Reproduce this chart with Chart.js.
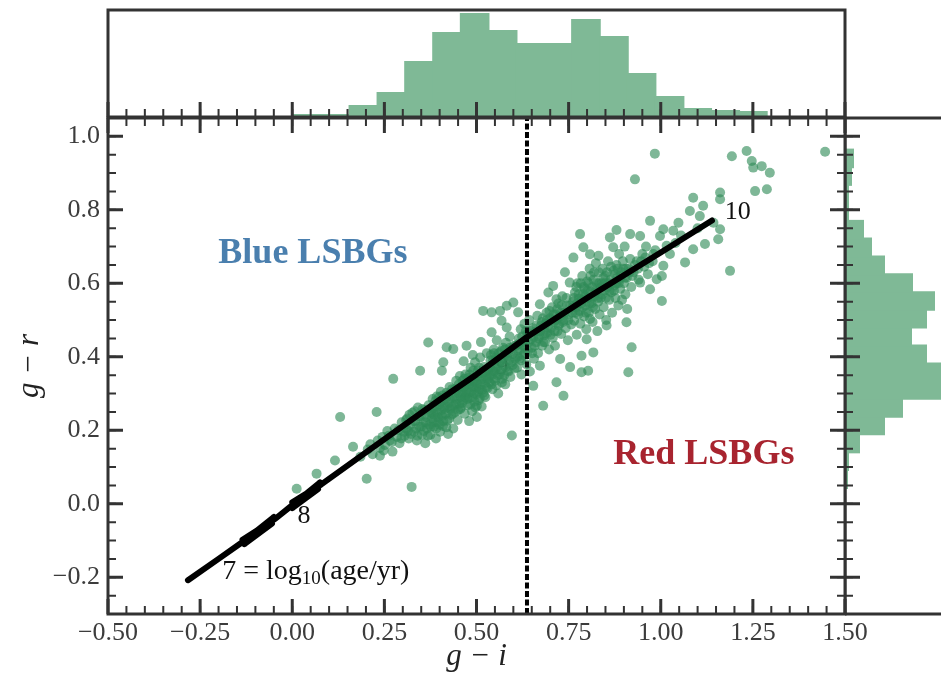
<!DOCTYPE html>
<html>
<head>
<meta charset="utf-8">
<script src="https://cdn.jsdelivr.net/npm/chart.js@4.4.1/dist/chart.umd.min.js"></script>
<style>
  html, body { margin: 0; padding: 0; width: 941px; height: 686px; overflow: hidden; background: #fff; }
  canvas { position: absolute; top: 0; }
</style>
</head>
<body>
<canvas id="topHist" width="941" height="130" style="left:0;width:941px;height:130px"></canvas>
<canvas id="rightHist" width="220" height="686" style="left:845px;width:220px;height:686px"></canvas>
<canvas id="main" width="941" height="686" style="left:0;width:941px;height:686px"></canvas>
<script>
const X_MIN = -0.5;
const X_MAX = 1.5;
const Y_MIN = -0.3;
const Y_MAX = 1.05;

const xTickValues = [-0.5, -0.25, 0, 0.25, 0.5, 0.75, 1.0, 1.25, 1.5];
const xTickLabels = ['−0.50', '−0.25', '0.00', '0.25', '0.50', '0.75', '1.00', '1.25', '1.50'];
const yTickValues = [-0.2, 0, 0.2, 0.4, 0.6, 0.8, 1.0];
const yTickLabels = ['−0.2', '0.0', '0.2', '0.4', '0.6', '0.8', '1.0'];

// g-i histogram (top panel): bin centres and counts
const giBinCentres = [0.042, 0.118, 0.193, 0.269, 0.344, 0.420, 0.495, 0.571, 0.646, 0.722, 0.797, 0.873, 0.948, 1.024, 1.099, 1.175, 1.250];
const giCounts = [2, 2, 11, 24, 55, 84, 103, 86, 73, 73, 97, 80, 43, 20, 8, 6, 5];

// g-r histogram (right panel): bin centres and counts
const grBinCentres = [0.067, 0.116, 0.164, 0.213, 0.261, 0.310, 0.358, 0.407, 0.455, 0.504, 0.552, 0.601, 0.649, 0.698, 0.746, 0.795, 0.843, 0.892, 0.940];
const grCounts = [2, 3, 14, 39, 57, 104, 112, 81, 66, 81, 89, 67, 39, 26, 18, 3, 3, 6, 8];

// model colour track, log10(age/yr) = 7 ... 10 (loops around 7.5 and 8)
const trackGi = [-0.283, -0.2, -0.135, -0.05, -0.13, -0.055, -0.135, -0.045, -0.005, 0.075, 0.0, 0.07, 0.0, 0.078, 0.2, 0.4, 0.5, 0.637, 0.8, 1.0, 1.139];
const trackGr = [-0.208, -0.150, -0.104, -0.036, -0.110, -0.054, -0.098, -0.040, -0.008, 0.058, -0.012, 0.040, 0.004, 0.052, 0.140, 0.283, 0.352, 0.454, 0.560, 0.684, 0.771];

const DIVIDER_GI = 0.637;

// LSBG colours [g-i, g-r]
const galaxyPoints = [
  [0.012, 0.041], [0.066, 0.082], [0.116, 0.118], [0.130, 0.236], [0.165, 0.155], [0.185, 0.128], [0.202, 0.068],
  [0.212, 0.162], [0.229, 0.25], [0.238, 0.131], [0.274, 0.340],
  [0.205, 0.148], [0.218, 0.135], [0.232, 0.172], [0.248, 0.145], [0.262, 0.185], [0.27, 0.168], [0.288, 0.2], [0.296, 0.178],
  [0.238, 0.152], [0.245, 0.182], [0.252, 0.160], [0.258, 0.198], [0.265, 0.172], [0.272, 0.142], [0.278, 0.205],
  [0.284, 0.182], [0.291, 0.165], [0.297, 0.222], [0.303, 0.196],
  [0.305, 0.185], [0.309, 0.228], [0.314, 0.198], [0.318, 0.242], [0.322, 0.19], [0.328, 0.225], [0.332, 0.252],
  [0.336, 0.205], [0.34, 0.185], [0.344, 0.238], [0.35, 0.21], [0.353, 0.258], [0.357, 0.198], [0.362, 0.222],
  [0.368, 0.185], [0.372, 0.242], [0.376, 0.21], [0.38, 0.258],
  [0.31, 0.205], [0.312, 0.232], [0.316, 0.178], [0.32, 0.215], [0.324, 0.046], [0.326, 0.248], [0.33, 0.196],
  [0.334, 0.225], [0.338, 0.172], [0.341, 0.262], [0.345, 0.21], [0.347, 0.362], [0.348, 0.238], [0.352, 0.188],
  [0.355, 0.222], [0.358, 0.255], [0.361, 0.165], [0.364, 0.236], [0.366, 0.205], [0.369, 0.439], [0.37, 0.268],
  [0.373, 0.215], [0.375, 0.188], [0.377, 0.248], [0.379, 0.232], [0.381, 0.285],
  [0.383, 0.245], [0.385, 0.222], [0.389, 0.28], [0.391, 0.205], [0.394, 0.265], [0.396, 0.235], [0.398, 0.29],
  [0.4, 0.215], [0.402, 0.278], [0.404, 0.242], [0.408, 0.295], [0.41, 0.225], [0.414, 0.258], [0.416, 0.285],
  [0.418, 0.208], [0.42, 0.262], [0.424, 0.298], [0.426, 0.232], [0.428, 0.285], [0.432, 0.265], [0.434, 0.312],
  [0.436, 0.245], [0.44, 0.29], [0.444, 0.272], [0.446, 0.31], [0.45, 0.255], [0.452, 0.325], [0.457, 0.29],
  [0.384, 0.21], [0.386, 0.262], [0.388, 0.236], [0.39, 0.178], [0.392, 0.292], [0.395, 0.248], [0.397, 0.222],
  [0.399, 0.27], [0.401, 0.196], [0.403, 0.305], [0.405, 0.255], [0.406, 0.362], [0.407, 0.238], [0.409, 0.212],
  [0.41, 0.385], [0.411, 0.282], [0.413, 0.265], [0.417, 0.245], [0.419, 0.426], [0.419, 0.302], [0.421, 0.226],
  [0.423, 0.19], [0.425, 0.275], [0.427, 0.318], [0.429, 0.258], [0.431, 0.242], [0.435, 0.29], [0.437, 0.421],
  [0.437, 0.205], [0.439, 0.268], [0.441, 0.312], [0.443, 0.25], [0.445, 0.335], [0.447, 0.285], [0.449, 0.228],
  [0.451, 0.3], [0.453, 0.272], [0.455, 0.348], [0.456, 0.258],
  [0.459, 0.318], [0.461, 0.275], [0.463, 0.305], [0.467, 0.34], [0.469, 0.29], [0.471, 0.322], [0.475, 0.285],
  [0.477, 0.33], [0.479, 0.302], [0.481, 0.352], [0.483, 0.27], [0.485, 0.338], [0.487, 0.318], [0.489, 0.29],
  [0.491, 0.362], [0.493, 0.3], [0.495, 0.33], [0.497, 0.262], [0.499, 0.318], [0.503, 0.345], [0.505, 0.305],
  [0.507, 0.37], [0.509, 0.288], [0.511, 0.325], [0.515, 0.31], [0.517, 0.34], [0.521, 0.295], [0.525, 0.36],
  [0.527, 0.318], [0.531, 0.34],
  [0.458, 0.262], [0.46, 0.30], [0.462, 0.335], [0.464, 0.282], [0.465, 0.388], [0.466, 0.318], [0.468, 0.245],
  [0.47, 0.352], [0.472, 0.296], [0.473, 0.43], [0.474, 0.31], [0.476, 0.268], [0.478, 0.342], [0.48, 0.325],
  [0.48, 0.225], [0.482, 0.288], [0.484, 0.37], [0.486, 0.305], [0.488, 0.252], [0.49, 0.335], [0.49, 0.405],
  [0.492, 0.318], [0.494, 0.278], [0.496, 0.385], [0.498, 0.346], [0.5, 0.298], [0.501, 0.267], [0.501, 0.236],
  [0.502, 0.326], [0.504, 0.362], [0.506, 0.282], [0.508, 0.312], [0.51, 0.398], [0.512, 0.338], [0.512, 0.44],
  [0.514, 0.265], [0.516, 0.355], [0.518, 0.302], [0.518, 0.525], [0.52, 0.372], [0.522, 0.328], [0.524, 0.29],
  [0.526, 0.345], [0.528, 0.41], [0.53, 0.315], [0.532, 0.362],
  [0.536, 0.35], [0.538, 0.39], [0.54, 0.325], [0.544, 0.362], [0.546, 0.34], [0.548, 0.41], [0.552, 0.37],
  [0.554, 0.322], [0.556, 0.395], [0.558, 0.35], [0.562, 0.382], [0.565, 0.36], [0.567, 0.415], [0.569, 0.33],
  [0.571, 0.395], [0.575, 0.35], [0.577, 0.42], [0.579, 0.372], [0.583, 0.4], [0.587, 0.36], [0.591, 0.425],
  [0.595, 0.385], [0.599, 0.408], [0.603, 0.368], [0.607, 0.43],
  [0.535, 0.33], [0.537, 0.372], [0.539, 0.405], [0.541, 0.35], [0.541, 0.521], [0.541, 0.467], [0.543, 0.312],
  [0.545, 0.39], [0.547, 0.42], [0.549, 0.36], [0.551, 0.335], [0.553, 0.398], [0.555, 0.445], [0.557, 0.372],
  [0.559, 0.3], [0.561, 0.41], [0.563, 0.352], [0.564, 0.525], [0.566, 0.388], [0.568, 0.498], [0.57, 0.34],
  [0.572, 0.425], [0.574, 0.375], [0.576, 0.402], [0.578, 0.325], [0.58, 0.438], [0.582, 0.539], [0.582, 0.48],
  [0.584, 0.362], [0.586, 0.41], [0.588, 0.39], [0.59, 0.455], [0.592, 0.345], [0.594, 0.42], [0.596, 0.186],
  [0.598, 0.378], [0.6, 0.548], [0.602, 0.43], [0.605, 0.395],
  [0.611, 0.4], [0.614, 0.435], [0.618, 0.42], [0.621, 0.39], [0.624, 0.455], [0.628, 0.43], [0.631, 0.41],
  [0.634, 0.47], [0.642, 0.44], [0.646, 0.47], [0.651, 0.41], [0.655, 0.455], [0.658, 0.43], [0.663, 0.485],
  [0.668, 0.45], [0.673, 0.47], [0.677, 0.495], [0.682, 0.44],
  [0.61, 0.37], [0.612, 0.418], [0.613, 0.521], [0.615, 0.45], [0.617, 0.395], [0.62, 0.475], [0.622, 0.352],
  [0.625, 0.432], [0.627, 0.405], [0.63, 0.49], [0.632, 0.44], [0.635, 0.38], [0.638, 0.462], [0.64, 0.415],
  [0.643, 0.5], [0.645, 0.36], [0.648, 0.448], [0.65, 0.425], [0.653, 0.478], [0.654, 0.321], [0.656, 0.395],
  [0.66, 0.468], [0.662, 0.44], [0.665, 0.512], [0.667, 0.41], [0.67, 0.455], [0.672, 0.376], [0.672, 0.543],
  [0.675, 0.485], [0.678, 0.43], [0.68, 0.505], [0.681, 0.267], [0.683, 0.458],
  [0.687, 0.465], [0.691, 0.5], [0.694, 0.48], [0.698, 0.525], [0.701, 0.46], [0.704, 0.5], [0.709, 0.515],
  [0.712, 0.47], [0.716, 0.5], [0.719, 0.53], [0.723, 0.485], [0.726, 0.51], [0.731, 0.54], [0.735, 0.495],
  [0.739, 0.52], [0.744, 0.56], [0.749, 0.5], [0.755, 0.54],
  [0.686, 0.44], [0.688, 0.49], [0.69, 0.52], [0.692, 0.465], [0.695, 0.575], [0.697, 0.42], [0.7, 0.505],
  [0.702, 0.478], [0.705, 0.535], [0.707, 0.452], [0.708, 0.593], [0.71, 0.495], [0.713, 0.43], [0.715, 0.515],
  [0.717, 0.557], [0.717, 0.331], [0.72, 0.47], [0.722, 0.545], [0.725, 0.49], [0.727, 0.394], [0.728, 0.52],
  [0.73, 0.462], [0.733, 0.565], [0.736, 0.294], [0.737, 0.5], [0.74, 0.63], [0.742, 0.478], [0.745, 0.54],
  [0.748, 0.445], [0.75, 0.515], [0.753, 0.602], [0.754, 0.372], [0.757, 0.488],
  [0.761, 0.535], [0.764, 0.56], [0.768, 0.52], [0.771, 0.59], [0.773, 0.545], [0.777, 0.57], [0.78, 0.525],
  [0.783, 0.6], [0.786, 0.555], [0.788, 0.535], [0.791, 0.59], [0.795, 0.565], [0.797, 0.52], [0.801, 0.58],
  [0.804, 0.6], [0.806, 0.545], [0.809, 0.62], [0.811, 0.56], [0.814, 0.59], [0.816, 0.535], [0.819, 0.63],
  [0.823, 0.575], [0.827, 0.6], [0.829, 0.56], [0.832, 0.63],
  [0.76, 0.52], [0.762, 0.55], [0.763, 0.67], [0.765, 0.498], [0.767, 0.575], [0.77, 0.535], [0.772, 0.46],
  [0.774, 0.6], [0.776, 0.515], [0.778, 0.558], [0.781, 0.734], [0.782, 0.49], [0.784, 0.545], [0.785, 0.358],
  [0.785, 0.403], [0.787, 0.62], [0.789, 0.57], [0.79, 0.698], [0.792, 0.51], [0.794, 0.585], [0.796, 0.54],
  [0.798, 0.475], [0.799, 0.448], [0.8, 0.605], [0.802, 0.56], [0.803, 0.362], [0.805, 0.52], [0.807, 0.64],
  [0.808, 0.679], [0.808, 0.503], [0.81, 0.578], [0.812, 0.545], [0.815, 0.495], [0.817, 0.412], [0.818, 0.61],
  [0.82, 0.565], [0.822, 0.53], [0.824, 0.655], [0.826, 0.585], [0.828, 0.47], [0.83, 0.55], [0.831, 0.675],
  [0.833, 0.6], [0.834, 0.515],
  [0.838, 0.59], [0.841, 0.57], [0.844, 0.615], [0.848, 0.6], [0.851, 0.56], [0.854, 0.63], [0.858, 0.6],
  [0.861, 0.58], [0.865, 0.645], [0.869, 0.6], [0.873, 0.58], [0.876, 0.625], [0.879, 0.6], [0.883, 0.64],
  [0.886, 0.6], [0.891, 0.62], [0.898, 0.64], [0.903, 0.615],
  [0.837, 0.56], [0.84, 0.6], [0.842, 0.64], [0.845, 0.535], [0.847, 0.58], [0.85, 0.62], [0.852, 0.5],
  [0.853, 0.485], [0.855, 0.59], [0.857, 0.66], [0.86, 0.555], [0.862, 0.725], [0.864, 0.61], [0.866, 0.575],
  [0.868, 0.52], [0.871, 0.698], [0.872, 0.635], [0.875, 0.595], [0.877, 0.56], [0.88, 0.65], [0.88, 0.745],
  [0.882, 0.615], [0.885, 0.54], [0.887, 0.68], [0.889, 0.611], [0.89, 0.585], [0.893, 0.63], [0.895, 0.555],
  [0.897, 0.66], [0.9, 0.6], [0.902, 0.7], [0.904, 0.57], [0.906, 0.64], [0.907, 0.494], [0.908, 0.615], [0.909, 0.53],
  [0.913, 0.64], [0.923, 0.62], [0.93, 0.65], [0.938, 0.64], [0.947, 0.66], [0.958, 0.67], [0.968, 0.655], [0.98, 0.68],
  [0.912, 0.358], [0.915, 0.63], [0.917, 0.734], [0.917, 0.666], [0.92, 0.59], [0.921, 0.426], [0.926, 0.63],
  [0.93, 0.883], [0.935, 0.66], [0.94, 0.61], [0.944, 0.729], [0.944, 0.602], [0.95, 0.68], [0.955, 0.645],
  [0.96, 0.7], [0.965, 0.625], [0.971, 0.77], [0.971, 0.584], [0.978, 0.66], [0.984, 0.953], [0.985, 0.69], [0.989, 0.611],
  [0.998, 0.729], [1.003, 0.62], [1.003, 0.552], [1.007, 0.747], [1.007, 0.648], [1.016, 0.702], [1.025, 0.68],
  [1.034, 0.743], [1.04, 0.71], [1.048, 0.765], [1.055, 0.73],
  [1.066, 0.657], [1.079, 0.797], [1.088, 0.693], [1.088, 0.833], [1.1, 0.75], [1.106, 0.783], [1.115, 0.811], [1.12, 0.707],
  [1.143, 0.765], [1.156, 0.72], [1.161, 0.747], [1.161, 0.829], [1.161, 0.847], [1.188, 0.634], [1.193, 0.946],
  [1.233, 0.96], [1.247, 0.933], [1.251, 0.915], [1.256, 0.851], [1.274, 0.919], [1.288, 0.856], [1.296, 0.901],
  [1.446, 0.958],
];

const AXIS_COLOUR = '#333333';
const TICK_LABEL_COLOUR = '#3c3c3c';
const POINT_COLOUR = 'rgba(46, 139, 87, 0.62)';
const HIST_COLOUR = '#7fb996';
const SERIF = '"Liberation Serif", "DejaVu Serif", serif';

const minorSteps = (min, max, step) => {
  const out = [];
  for (let v = Math.ceil(min / step - 1e-9) * step; v <= max + 1e-9; v += step) out.push(Number(v.toFixed(4)));
  return out;
};
const xMinor = minorSteps(X_MIN, X_MAX, 0.05);
const yMinor = minorSteps(Y_MIN, Y_MAX, 0.05);

// frame around the chart area plus inward-pointing ticks, matplotlib style
const frameTicks = {
  id: 'frameTicks',
  afterDatasetsDraw(chart, args, opts) {
    const { ctx, chartArea: a } = chart;
    ctx.save();
    ctx.strokeStyle = AXIS_COLOUR;
    ctx.lineWidth = 3;
    ctx.strokeRect(a.left, a.top, a.right - a.left, a.bottom - a.top);
    (opts.sides || []).forEach((side) => {
      const horizontal = side === 'top' || side === 'bottom';
      const scale = chart.scales[horizontal ? 'x' : 'y'];
      const dir = side === 'top' || side === 'left' ? 1 : -1;
      const base = a[side];
      const draw = (values, len, width) => {
        ctx.lineWidth = width;
        ctx.beginPath();
        values.forEach((v) => {
          const p = scale.getPixelForValue(v);
          if (horizontal) {
            ctx.moveTo(p, base);
            ctx.lineTo(p, base + dir * len);
          } else {
            ctx.moveTo(base, p);
            ctx.lineTo(base + dir * len, p);
          }
        });
        ctx.stroke();
      };
      draw(horizontal ? xMinor : yMinor, 8, 2);
      draw(horizontal ? xTickValues : yTickValues, 15, 3);
    });
    ctx.restore();
  },
};

const drawText = (chart, text, x, y, font, colour, align) => {
  const { ctx, scales } = chart;
  ctx.save();
  ctx.font = font;
  ctx.fillStyle = colour;
  ctx.textAlign = align || 'center';
  ctx.textBaseline = 'middle';
  ctx.fillText(text, scales.x.getPixelForValue(x), scales.y.getPixelForValue(y));
  ctx.restore();
};

const annotations = {
  id: 'annotations',
  beforeDatasetsDraw(chart) {
    drawText(chart, '9', 0.569, 0.372, `26px ${SERIF}`, '#111');
  },
  afterDatasetsDraw(chart) {
    const { ctx, scales } = chart;
    drawText(chart, 'Blue LSBGs', 0.056, 0.682, `bold 36px ${SERIF}`, '#4a7fae');
    drawText(chart, 'Red LSBGs', 1.117, 0.133, `bold 36px ${SERIF}`, '#a8242f');
    drawText(chart, '10', 1.174, 0.795, `26px ${SERIF}`, '#111', 'left');
    drawText(chart, '8', 0.032, -0.035, `26px ${SERIF}`, '#111');

    // 7 = log10(age/yr) with a subscript
    let px = scales.x.getPixelForValue(-0.19);
    const py = scales.y.getPixelForValue(-0.185);
    ctx.save();
    ctx.fillStyle = '#111';
    ctx.textAlign = 'left';
    ctx.textBaseline = 'middle';
    ctx.font = `28px ${SERIF}`;
    ctx.fillText('7 = log', px, py);
    px += ctx.measureText('7 = log').width;
    ctx.font = `19px ${SERIF}`;
    ctx.fillText('10', px, py + 7);
    px += ctx.measureText('10').width;
    ctx.font = `28px ${SERIF}`;
    ctx.fillText('(age/yr)', px, py);
    ctx.restore();
  },
};

const tickFont = { family: SERIF, size: 26 };

new Chart(document.getElementById('main'), {
  type: 'scatter',
  data: {
    datasets: [
      {
        label: 'track',
        type: 'line',
        data: trackGi.map((x, i) => ({ x, y: trackGr[i] })),
        borderColor: '#000',
        borderWidth: 6,
        borderJoinStyle: 'round',
        borderCapStyle: 'round',
        pointRadius: 0,
        tension: 0,
        order: 1,
      },
      {
        label: 'divider',
        type: 'line',
        data: [{ x: DIVIDER_GI, y: Y_MIN }, { x: DIVIDER_GI, y: Y_MAX }],
        borderColor: '#000',
        borderWidth: 4,
        borderDash: [6, 2.5],
        pointRadius: 0,
        order: 2,
      },
      {
        label: 'LSBGs',
        data: galaxyPoints.map(([x, y]) => ({ x, y })),
        backgroundColor: POINT_COLOUR,
        borderWidth: 0,
        pointRadius: 5,
        order: 3,
      },
    ],
  },
  options: {
    responsive: false,
    animation: false,
    devicePixelRatio: 1,
    layout: { padding: { top: 118, right: 96, left: 0, bottom: 0 } },
    scales: {
      x: {
        type: 'linear',
        min: X_MIN,
        max: X_MAX,
        grid: { display: false, drawTicks: false },
        border: { display: false },
        afterBuildTicks: (s) => { s.ticks = xTickValues.map((value) => ({ value })); },
        afterFit: (s) => { s.height = 72; s.paddingLeft = 0; s.paddingRight = 0; },
        ticks: {
          autoSkip: false,
          maxRotation: 0,
          padding: 4,
          color: TICK_LABEL_COLOUR,
          font: tickFont,
          callback: (value, index) => xTickLabels[index],
        },
        title: {
          display: true,
          text: 'g − i',
          color: '#222',
          font: { family: SERIF, size: 31, style: 'italic' },
          padding: { top: 0, bottom: 11 },
        },
      },
      y: {
        type: 'linear',
        min: Y_MIN,
        max: Y_MAX,
        grid: { display: false, drawTicks: false },
        border: { display: false },
        afterBuildTicks: (s) => { s.ticks = yTickValues.map((value) => ({ value })); },
        afterFit: (s) => { s.width = 108; s.paddingTop = 0; s.paddingBottom = 0; },
        ticks: {
          autoSkip: false,
          padding: 8,
          color: TICK_LABEL_COLOUR,
          font: tickFont,
          callback: (value, index) => yTickLabels[index],
        },
        title: {
          display: true,
          text: 'g − r',
          color: '#222',
          font: { family: SERIF, size: 31, style: 'italic' },
          padding: { top: 11, bottom: 0 },
        },
      },
    },
    plugins: {
      legend: { display: false },
      tooltip: { enabled: false },
      frameTicks: { sides: ['left', 'right', 'top', 'bottom'] },
    },
  },
  plugins: [annotations, frameTicks],
});

new Chart(document.getElementById('topHist'), {
  type: 'bar',
  data: {
    datasets: [{
      data: giBinCentres.map((x, i) => ({ x, y: giCounts[i] })),
      backgroundColor: HIST_COLOUR,
      borderWidth: 0,
      inflateAmount: 1,
      barPercentage: 1,
      categoryPercentage: 1,
    }],
  },
  options: {
    responsive: false,
    animation: false,
    devicePixelRatio: 1,
    layout: { padding: { top: 10, right: 96, left: 108, bottom: 13 } },
    scales: {
      x: { type: 'linear', min: X_MIN, max: X_MAX, offset: false, display: false },
      y: { type: 'linear', min: 0, max: 107, display: false },
    },
    plugins: {
      legend: { display: false },
      tooltip: { enabled: false },
      frameTicks: { sides: ['bottom'] },
    },
  },
  plugins: [frameTicks],
});

new Chart(document.getElementById('rightHist'), {
  type: 'bar',
  data: {
    datasets: [{
      data: grBinCentres.map((y, i) => ({ x: grCounts[i], y })),
      backgroundColor: HIST_COLOUR,
      borderWidth: 0,
      inflateAmount: 1,
      barPercentage: 1,
      categoryPercentage: 1,
    }],
  },
  options: {
    indexAxis: 'y',
    responsive: false,
    animation: false,
    devicePixelRatio: 1,
    layout: { padding: { top: 118, right: 0, left: 0, bottom: 72 } },
    scales: {
      x: { type: 'linear', min: 0, max: 220, display: false },
      y: { type: 'linear', min: Y_MIN, max: Y_MAX, offset: false, display: false },
    },
    plugins: {
      legend: { display: false },
      tooltip: { enabled: false },
      frameTicks: { sides: ['left'] },
    },
  },
  plugins: [frameTicks],
});
</script>
</body>
</html>
